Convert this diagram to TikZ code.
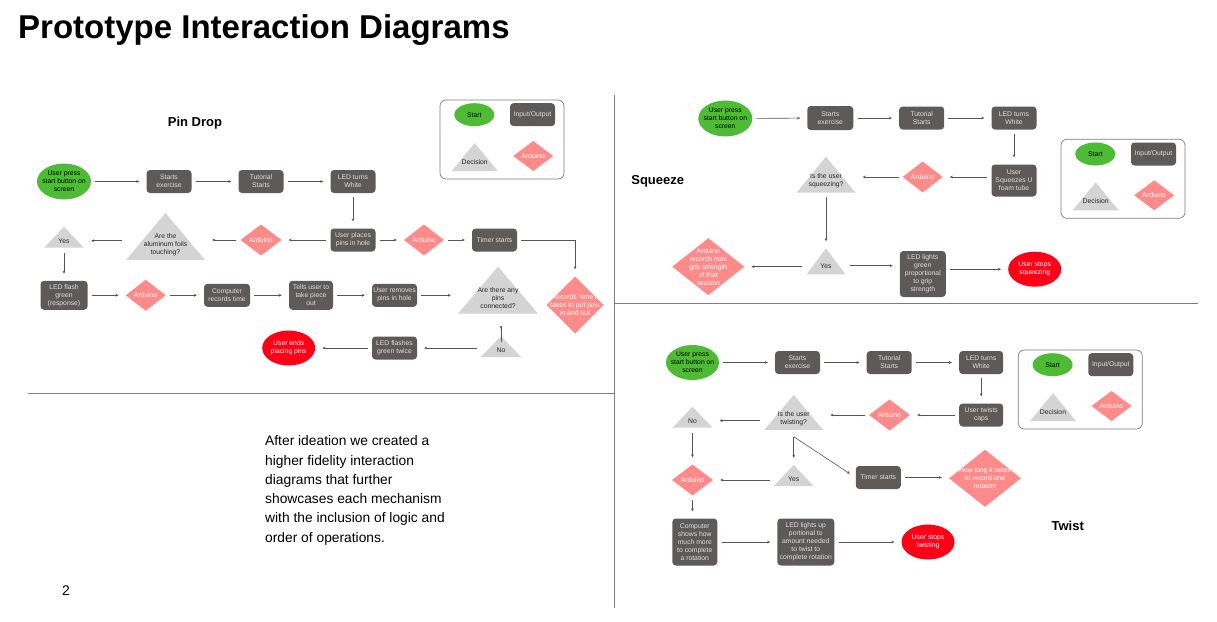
\documentclass[tikz,border=0pt]{standalone}
\usepackage{fontspec}
\setmainfont{Liberation Sans}
\usepackage{tikz}
\usetikzlibrary{arrows.meta, calc}
\definecolor{startgreen}{RGB}{77, 188, 52}
\definecolor{endred}{RGB}{255, 0, 22}
\definecolor{boxgrey}{RGB}{94, 90, 88}
\definecolor{ardpink}{RGB}{255, 138, 138}
\definecolor{decgrey}{RGB}{212, 212, 212}
\definecolor{linegrey}{RGB}{85, 85, 85}
\definecolor{divgrey}{RGB}{125, 125, 125}

\tikzset{
  every node/.style={inner sep=0pt},
  boxtext/.style={align=center, font=\fontsize{6.8}{8}\selectfont},
  wh/.style 2 args={minimum width=#1pt, minimum height=#2pt},
  startnode/.style={boxtext, text=black, path picture={
    \fill[startgreen] let \p1=(path picture bounding box.north east), \p2=(path picture bounding box.center)
      in (\p2) ellipse [x radius={\x1-\x2}, y radius={\y1-\y2}];}},
  endnode/.style={boxtext, text=white, path picture={
    \fill[endred] let \p1=(path picture bounding box.north east), \p2=(path picture bounding box.center)
      in (\p2) ellipse [x radius={\x1-\x2}, y radius={\y1-\y2}];}},
  iobox/.style={boxtext, rounded corners=3.5pt, fill=boxgrey, text=white!88!black},
  arduino/.style={boxtext, text=white, path picture={
    \fill[ardpink] (path picture bounding box.north) -- (path picture bounding box.east)
      -- (path picture bounding box.south) -- (path picture bounding box.west) -- cycle;}},
  decision/.style={boxtext, text=black!85, path picture={
    \fill[decgrey] (path picture bounding box.north)
      -- ($(path picture bounding box.south east)!0.25!(path picture bounding box.north east)$)
      -- ($(path picture bounding box.south west)!0.25!(path picture bounding box.north west)$) -- cycle;}},
  flow/.style={draw=linegrey, line width=0.6pt, -{Stealth[length=3pt, width=2.8pt]},
    shorten <=4pt, shorten >=7pt},
  divider/.style={draw=divgrey, line width=0.9pt},
  legendbox/.style={draw=divgrey, line width=0.7pt, rounded corners=6pt},
  heading/.style={font=\fontsize{13}{15}\selectfont\bfseries}
}

\begin{document}
\begin{tikzpicture}[x=1pt, y=-1pt]

  \fill[white] (0, 0) rectangle (1217, 621);
  \useasboundingbox (0, 0) rectangle (1217, 621);

  \node[anchor=base west, font=\fontsize{33}{38}\selectfont\bfseries] (title) at (18, 38)
    {Prototype Interaction Diagrams};

  \draw[divider] (614.5, 95) -- (614.5, 608);
  \draw[divider] (28, 393.5) -- (614.5, 393.5);
  \draw[divider] (614.5, 303) -- (1198, 303);

  \foreach \lx/\ly/\lkey in {440/100/pd, 1061/139.3/sq, 1018.3/350/tw} {
    \begin{scope}[shift={(\lx, \ly)}]
      \draw[legendbox] (0, 0) rectangle (124, 79);
      \node[startnode, wh={40}{23}] (\lkey keystart) at (34.3, 14.7) {Start};
      \node[iobox, wh={45}{23}] (\lkey keyio) at (92.5, 14.7) {Input/Output};
      \node[decision, wh={46}{37.3}] (\lkey keydec) at (34.7, 61.7) {Decision};
      \node[arduino, wh={40}{30}] (\lkey keyard) at (93.2, 56) {Arduino};
    \end{scope}
  }

  \node[heading] (pdtitle) at (195, 123) {Pin Drop};

  \node[startnode, wh={54}{36}] (pdstart) at (64, 181.5) {User press\\start button on\\screen};
  \node[iobox, wh={45}{23}] (pdexer) at (169, 181.5) {Starts\\exercise};
  \node[iobox, wh={45}{23}] (pdtut) at (261, 181.5) {Tutorial\\Starts};
  \node[iobox, wh={45}{23}] (pdled) at (353, 181.5) {LED turns\\White};
  \node[iobox, wh={45}{23}] (pdplace) at (353, 240) {User places\\pins in hole};
  \node[arduino, wh={41}{31}] (pdard) at (261, 240) {Arduino};
  \node[decision, wh={79}{62.7}] (pdfoil) at (165.5, 244.3) {Are the\\aluminum foils\\touching?};
  \node[decision, wh={40}{28}] (pdyes) at (64, 240.7) {Yes};
  \node[arduino, wh={40}{31}] (pdardb) at (424, 240) {Arduino};
  \node[iobox, wh={45}{23}] (pdtimer) at (494.5, 240) {Timer starts};
  \node[arduino, wh={57}{57}] (pdrec) at (575, 305) {Records \ time it\\takes to put pins\\in and out};
  \node[iobox, wh={47}{29}] (pdledg) at (64, 295.3) {LED flash\\green\\(response)};
  \node[arduino, wh={40}{31}] (pdardc) at (145.7, 295.3) {Arduino};
  \node[iobox, wh={46}{23}] (pdcomp) at (227, 295.3) {Computer\\records time};
  \node[iobox, wh={44}{29}] (pdtells) at (311, 295.3) {Tells user to\\take piece\\out};
  \node[iobox, wh={45}{23}] (pdremove) at (394.5, 295.3) {User removes\\pins in hole};
  \node[decision, wh={80}{62.7}] (pdpins) at (498, 298) {Are there any\\pins\\connected?};
  \node[decision, wh={40}{28}] (pdno) at (501, 350) {No};
  \node[iobox, wh={45}{23}] (pdflash) at (394.5, 348) {LED flashes\\green twice};
  \node[endnode, wh={53}{35}] (pdend) at (288.7, 348) {User ends\\placing pins};

  \draw[flow] (pdstart) -- (pdexer);
  \draw[flow] (pdexer) -- (pdtut);
  \draw[flow] (pdtut) -- (pdled);
  \draw[flow] (pdled) -- (pdplace);
  \draw[flow] (pdplace) -- (pdard);
  \draw[flow] (pdard) -- (pdard -| pdfoil.east);
  \draw[flow] (pdyes -| pdfoil.west) -- (pdyes);
  \draw[flow] (pdplace) -- (pdardb);
  \draw[flow] (pdardb) -- (pdtimer);
  \draw[flow] (pdtimer) -| (pdrec);
  \draw[flow, shorten <=-2pt] (pdyes) -- (pdledg);
  \draw[flow] (pdledg) -- (pdardc);
  \draw[flow] (pdardc) -- (pdcomp);
  \draw[flow] (pdcomp) -- (pdtells);
  \draw[flow] (pdtells) -- (pdremove);
  \draw[flow] (pdremove) -- (pdremove -| pdpins.west);
  \draw[flow, shorten <=-12.6pt] (pdno |- pdpins.south) -- (pdno);
  \draw[flow] (pdno.west |- pdflash) -- (pdflash);
  \draw[flow] (pdflash) -- (pdend);

  \node[anchor=north west, align=left, font=\fontsize{13.8}{19.3}\selectfont] (note) at (265, 435.5)
    {After ideation we created a\\higher fidelity interaction\\diagrams that further\\showcases each mechanism\\with the inclusion of logic and\\order of operations.};
  \node[font=\fontsize{14}{17}\selectfont] (pagenum) at (66, 591) {2};

  \node[heading] (sqtitle) at (657.7, 181) {Squeeze};

  \node[startnode, wh={54}{36}] (sqstart) at (725.3, 118.5) {User press\\start button on\\screen};
  \node[iobox, wh={46}{24}] (sqexer) at (830.3, 118) {Starts\\exercise};
  \node[iobox, wh={45}{23}] (sqtut) at (921.7, 118) {Tutorial\\Starts};
  \node[iobox, wh={45}{23}] (sqled) at (1014, 118) {LED turns\\White};
  \node[iobox, wh={45}{32}] (sqsqz) at (1014, 180.5) {User\\Squeezes U\\foam tube};
  \node[arduino, wh={40}{31}] (sqard) at (922.7, 177) {Arduino};
  \node[decision, wh={59}{48}] (sqdec) at (826, 180.7) {Is the user\\squeezing?};
  \node[decision, wh={39}{34.7}] (sqyes) at (826, 265.7) {Yes};
  \node[arduino, wh={72}{57}] (sqrec) at (708.3, 266.7) {Arduino\\records max\\grip strength\\of that\\session};
  \node[iobox, wh={46}{46}] (sqledg) at (922.8, 274) {LED lights\\green\\proportional\\to grip\\strength};
  \node[endnode, wh={53}{35}] (sqend) at (1034.7, 269.2) {User stops\\squeezing};

  \draw[flow] (sqstart) -- (sqexer);
  \draw[flow] (sqexer) -- (sqtut);
  \draw[flow] (sqtut) -- (sqled);
  \draw[flow] (sqled) -- (sqsqz);
  \draw[flow] (sqsqz.west |- sqard) -- (sqard);
  \draw[flow] (sqard) -- (sqard -| sqdec.east);
  \draw[flow, shorten <=-8pt] (sqdec) -- (sqyes);
  \draw[flow] (sqrec -| sqyes.west) -- (sqrec);
  \draw[flow] (sqyes) -- (sqyes -| sqledg.west);
  \draw[flow] (sqend -| sqledg.east) -- (sqend);

  \node[heading] (twtitle) at (1067.7, 526) {Twist};

  \node[startnode, wh={53}{35}] (twstart) at (692.5, 362.5) {User press\\start button on\\screen};
  \node[iobox, wh={45}{23}] (twexer) at (797.5, 362.5) {Starts\\exercise};
  \node[iobox, wh={45}{23}] (twtut) at (889.2, 362.5) {Tutorial\\Starts};
  \node[iobox, wh={44}{23}] (twled) at (981.2, 362.5) {LED turns\\White};
  \node[iobox, wh={44}{23}] (twcaps) at (981.2, 415) {User twists\\caps};
  \node[arduino, wh={41}{31}] (tward) at (889.5, 415) {Arduino};
  \node[decision, wh={59}{46.7}] (twdec) at (793.7, 418.3) {Is the user\\twisting?};
  \node[decision, wh={40}{28}] (twno) at (692.5, 420.7) {No};
  \node[arduino, wh={41}{31}] (twardb) at (692.5, 480) {Arduino};
  \node[decision, wh={40}{28}] (twyes) at (793.7, 479) {Yes};
  \node[iobox, wh={45}{23}] (twtimer) at (878.3, 477.5) {Timer starts};
  \node[arduino, wh={72}{57}] (twlong) at (985, 478.3) {How long it takes\\to record one\\rotation};
  \node[iobox, wh={45}{47}] (twcomp) at (694.8, 542) {Computer\\shows how\\much more\\to complete\\a rotation};
  \node[iobox, wh={57}{47}] (twledup) at (805.8, 542) {LED lights up\\portional to\\amount needed\\to twist to\\complete rotation};
  \node[endnode, wh={53}{35}] (twend) at (928, 542) {User stops\\twisting};
  \coordinate (twfork) at (793.7, 436.7);

  \draw[flow] (twstart) -- (twexer);
  \draw[flow] (twexer) -- (twtut);
  \draw[flow] (twtut) -- (twled);
  \draw[flow] (twled) -- (twcaps);
  \draw[flow] (twcaps) -- (tward);
  \draw[flow] (tward) -- (tward -| twdec.east);
  \draw[flow] (twno -| twdec.west) -- (twno);
  \draw[flow, shorten <=-2pt] (twno) -- (twardb);
  \draw[flow, shorten <=0pt] (twfork) -- (twyes);
  \draw[flow, shorten <=0pt] (twfork) -- (twtimer.west);
  \draw[flow] (twardb -| twyes.west) -- (twardb);
  \draw[flow] (twtimer) -- (twtimer -| twlong.west);
  \draw[flow] (twardb) -- (twardb |- twcomp.north);
  \draw[flow] (twcomp) -- (twledup);
  \draw[flow] (twledup) -- (twend);

\end{tikzpicture}
\end{document}
